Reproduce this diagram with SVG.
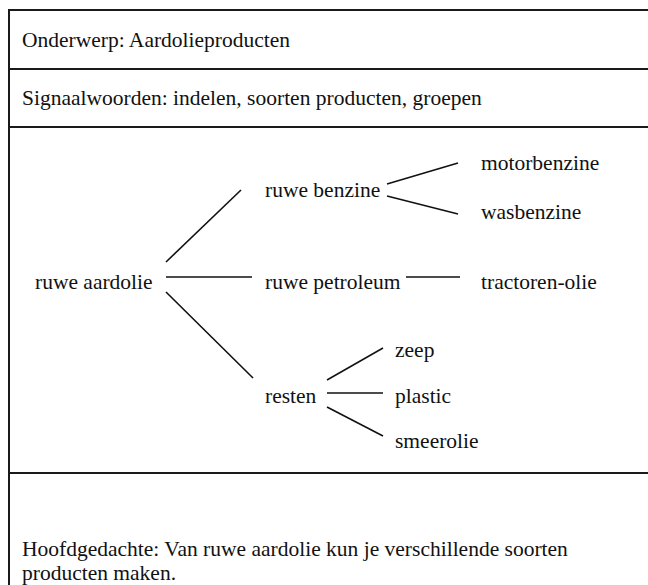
<svg xmlns="http://www.w3.org/2000/svg" width="648" height="585" viewBox="0 0 648 585">
<style>
text{font-family:'Liberation Serif','Times New Roman','DejaVu Serif',serif;font-size:21.5px;fill:#111}
.frame{stroke:#1a1a1a;stroke-width:2;fill:none}
.conn line{stroke:#111;stroke-width:1.6}
</style>
<rect width="648" height="585" fill="#fff"/>
<g id="frame">
<path class="frame" d="M9,585 V10 H650 M9,69 H650 M9,127 H650 M9,473 H650"/>
</g>
<g id="onderwerp"><text x="22" y="47">Onderwerp: Aardolieproducten</text></g>
<g id="signaalwoorden"><text x="22" y="105">Signaalwoorden: indelen, soorten producten, groepen</text></g>
<g class="conn" id="connectors">
<line x1="166" y1="262" x2="241" y2="190"/>
<line x1="166" y1="277" x2="252" y2="277"/>
<line x1="166" y1="292" x2="253" y2="378"/>
<line x1="387" y1="184" x2="458" y2="163"/>
<line x1="387" y1="196" x2="458" y2="214"/>
<line x1="406" y1="277" x2="460" y2="277"/>
<line x1="327" y1="380" x2="383" y2="348"/>
<line x1="327" y1="393" x2="383" y2="393"/>
<line x1="327" y1="407" x2="383" y2="436"/>
</g>
<g id="n-aardolie"><text x="35" y="289">ruwe aardolie</text></g>
<g id="n-benzine"><text x="265" y="197">ruwe benzine</text></g>
<g id="n-motorbenzine"><text x="481" y="170">motorbenzine</text></g>
<g id="n-wasbenzine"><text x="481" y="219">wasbenzine</text></g>
<g id="n-petroleum"><text x="265" y="289">ruwe petroleum</text></g>
<g id="n-tractoren"><text x="481" y="289">tractoren-olie</text></g>
<g id="n-resten"><text x="265" y="403">resten</text></g>
<g id="n-zeep"><text x="395" y="357">zeep</text></g>
<g id="n-plastic"><text x="395" y="403">plastic</text></g>
<g id="n-smeerolie"><text x="395" y="448">smeerolie</text></g>
<g id="hoofdgedachte">
<text x="22" y="556">Hoofdgedachte: Van ruwe aardolie kun je verschillende soorten</text>
<text x="22" y="580">producten maken.</text>
</g>
</svg>
